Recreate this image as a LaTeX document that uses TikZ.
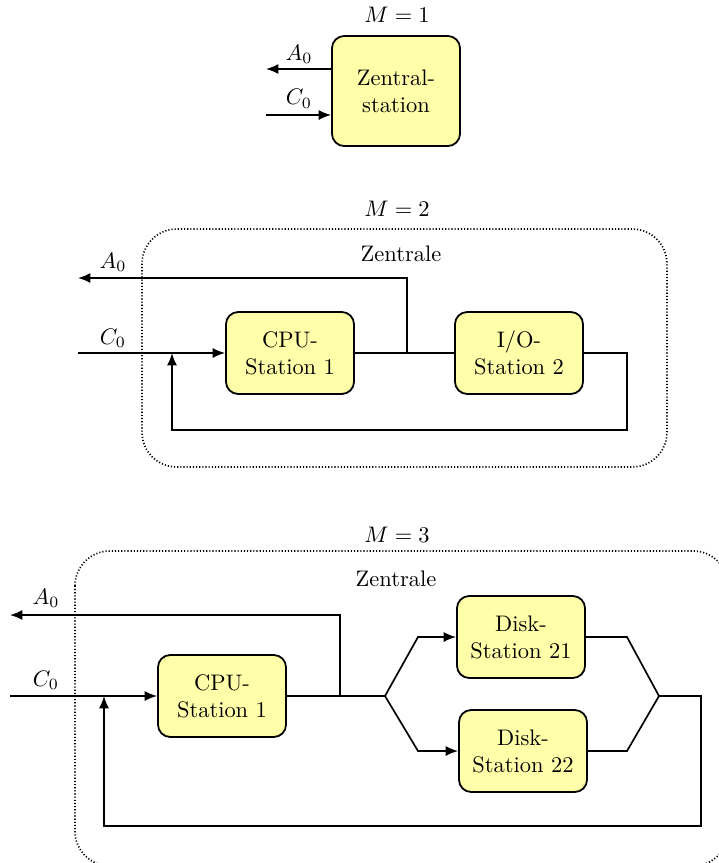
\documentclass[tikz,border=0pt]{standalone}
\usetikzlibrary{arrows.meta}
\definecolor{boxyellow}{RGB}{255,255,170}
\begin{document}
\begin{tikzpicture}[x=0.445pt,y=-0.445pt,
  station/.style={draw,thick,fill=boxyellow,rounded corners=5.5pt,align=center,
    minimum width=57pt,minimum height=36.5pt,inner sep=0pt},
  conn/.style={line width=0.75pt},
  arr/.style={line width=0.75pt,-{Latex[length=5.5pt,width=4.5pt]}},
  frame/.style={draw,line width=0.75pt,dash pattern=on 0.5pt off 0.9pt,rounded corners=15.5pt},
  lbl/.style={inner sep=0pt}]
\useasboundingbox (0,0) rectangle (719,863);

% ---------- M = 1 ----------
\node[lbl] (t1) at (397,15) {$M=1$};
\node[station,minimum height=49pt] (zs) at (396,91) {Zentral-\\station};
\coordinate (a1out) at (266,69);
\coordinate (c1in) at (266,115);
\draw[arr] (zs.west |- a1out) -- (a1out);
\draw[arr] (c1in) -- (c1in -| zs.west);
\node[lbl] (la1) at (299,54) {$A_0$};
\node[lbl] (lc1) at (299,99) {$C_0$};

% ---------- M = 2 ----------
\node[lbl] (t2) at (397,209) {$M=2$};
\draw[frame] (142,229) rectangle (667,467);
\node[lbl] (z2) at (401,254) {Zentrale};
\node[station] (cpu2) at (290,353) {CPU-\\Station 1};
\node[station] (io2) at (519,353) {I/O-\\Station 2};
\coordinate (c2in) at (78,353);
\coordinate (a2out) at (78,278);
\coordinate (j2) at (407,353);
\coordinate (r2) at (627,430);
\coordinate (l2) at (172,353);
\draw[conn] (cpu2.east) -- (io2.west);
\draw[arr] (j2) |- (a2out);
\draw[arr] (c2in) -- (cpu2.west);
\draw[arr] (io2.east) -| (r2) -| (l2);
\node[lbl] (la2) at (113,262) {$A_0$};
\node[lbl] (lc2) at (113,338) {$C_0$};

% ---------- M = 3 ----------
\node[lbl] (t3) at (397,535) {$M=3$};
\draw[frame] (75,551) rectangle (728,866);
\node[lbl] (z3) at (396,579) {Zentrale};
\node[station] (cpu3) at (222,696) {CPU-\\Station 1};
\node[station] (d21) at (521,637) {Disk-\\Station 21};
\node[station] (d22) at (523,751) {Disk-\\Station 22};
\coordinate (fork) at (385,696);
\coordinate (f1) at (418,637);
\coordinate (f2) at (418,751);
\coordinate (m1) at (627,637);
\coordinate (m2) at (627,751);
\coordinate (join) at (659,696);
\coordinate (r3) at (701,826);
\coordinate (l3) at (104,696);
\coordinate (j3) at (340,696);
\coordinate (a3out) at (10,615);
\coordinate (c3in) at (10,696);
\draw[conn] (cpu3.east) -- (fork);
\draw[arr] (fork) -- (f1) -- (d21.west);
\draw[arr] (fork) -- (f2) -- (d22.west);
\draw[conn] (d21.east) -- (m1) -- (join);
\draw[conn] (d22.east) -- (m2) -- (join);
\draw[arr] (join) -| (r3) -| (l3);
\draw[arr] (j3) |- (a3out);
\draw[arr] (c3in) -- (cpu3.west);
\node[lbl] (la3) at (46,598) {$A_0$};
\node[lbl] (lc3) at (46,680) {$C_0$};
\end{tikzpicture}
\end{document}
